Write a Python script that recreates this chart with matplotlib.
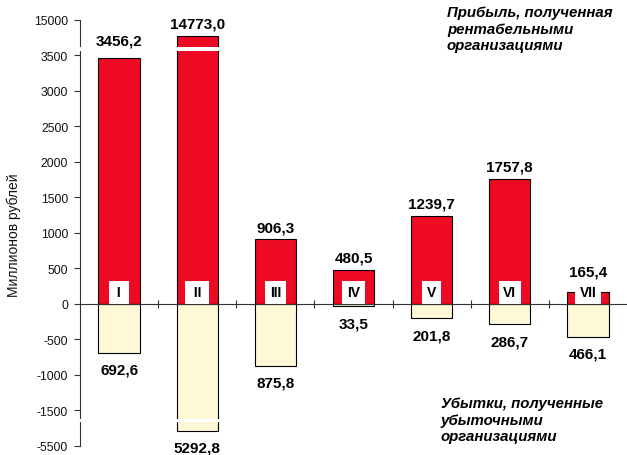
import numpy as np
import matplotlib
matplotlib.use("Agg")
import matplotlib.pyplot as plt

# ---- data ----
categories = ["I", "II", "III", "IV", "V", "VI", "VII"]
profit = [3456.2, 14773.0, 906.3, 480.5, 1239.7, 1757.8, 165.4]
loss = [692.6, 5292.8, 875.8, 33.5, 201.8, 286.7, 466.1]
yticks = [-5500, -1500, -1000, -500, 0, 500, 1000, 1500, 2000, 2500, 3000, 3500, 15000]
ylabel = "Миллионов рублей"
title_profit = "Прибыль, полученная\nрентабельными\nорганизациями"
title_loss = "Убытки, полученные\nубыточными\nорганизациями"

RED = "#EE0A23"
CREAM = "#FFF8D6"

# broken-axis scale (piecewise linear)
xp = np.array([-1e6, -5140.0, -1630.0, 3580.0, 14600.0, 1e6])
fp = np.array([-1e6 + 3500, -1640.0, -1630.0, 3580.0, 3600.0, 1e6 - 11000])


def fwd(v):
    return np.interp(v, xp, fp)


def inv(m):
    return np.interp(m, fp, xp)


plt.rcParams["font.family"] = ["Liberation Sans", "DejaVu Sans"]

fig = plt.figure(figsize=(6.27, 4.56), dpi=100)
ax = fig.add_axes([80 / 627, 9.3 / 456, 547 / 627, 426 / 456])
ax.set_yscale("function", functions=(fwd, inv))

x = np.arange(len(categories))
neg = [-v for v in loss]
ax.bar(x, profit, width=0.53, color=RED, edgecolor="black", linewidth=0.8, zorder=2)
ax.bar(x, neg, width=0.53, color=CREAM, edgecolor="black", linewidth=0.8, zorder=2)

ax.set_xlim(-0.5, 6.5)
ax.set_ylim(-5500, 15000)

ax.spines["top"].set_visible(False)
ax.spines["right"].set_visible(False)
ax.spines["bottom"].set_position(("data", 0))
ax.spines["left"].set_color("#333333")
ax.spines["bottom"].set_color("#333333")

ax.set_yticks(yticks)
ax.set_yticklabels([str(t) for t in yticks])
ax.tick_params(axis="y", length=4, width=0.8, pad=4.5, labelsize=8.8, colors="#333333", labelcolor="#111111")
ax.set_xticks(np.arange(0.5, 6.5, 1.0))
ax.set_xticklabels([])
ax.tick_params(axis="x", direction="inout", length=6, width=0.8, colors="#333333")

# break gaps
for lo, hi, x0, x1 in [(3565, 14617, -0.62, 1.5), (-5165, -1620, -0.62, 1.5)]:
    ax.fill_between([x0, x1], [lo, lo], [hi, hi], color="white", lw=0, zorder=6, clip_on=False)


def fmt(v):
    return f"{v:.1f}".replace(".", ",")


px2pt = 72.0 / fig.dpi
y0_px = ax.transData.transform((0, 0))[1]
for i, v in enumerate(profit):
    bar_px = ax.transData.transform((0, v))[1] - y0_px
    off_px = 14 if i == 0 else max(8, 28 - bar_px)
    ax.annotate(fmt(v), xy=(i, v), xytext=(0, off_px * px2pt), textcoords="offset points",
                ha="center", va="baseline", fontsize=11, fontweight="bold", zorder=7)
for i, v in enumerate(loss):
    ax.annotate(fmt(v), xy=(i, -v), xytext=(0, -7.2), textcoords="offset points",
                ha="center", va="top", fontsize=11, fontweight="bold", zorder=7)
for i, c in enumerate(categories):
    shown = f" {c} " if (len(c) <= 2 and "V" not in c) else c
    ax.annotate(shown, xy=(i, 0), xytext=(0, 3.3), textcoords="offset points",
                ha="center", va="bottom", fontsize=10, fontweight="bold", zorder=5,
                bbox=dict(boxstyle="square,pad=0.33", fc="white", ec="none"))

fig.text(14 / 627, 1 - 235.5 / 456, ylabel, rotation=90, ha="center", va="center",
         fontsize=10, color="#111111")
fig.text(447 / 627, 1 - 6.5 / 456, title_profit, ha="left", va="top", fontsize=10.8,
         fontweight="bold", fontstyle="italic", linespacing=1.2)
fig.text(441 / 627, 1 - 397.5 / 456, title_loss, ha="left", va="top", fontsize=10.8,
         fontweight="bold", fontstyle="italic", linespacing=1.2)

fig.savefig("out.png", dpi=100)
